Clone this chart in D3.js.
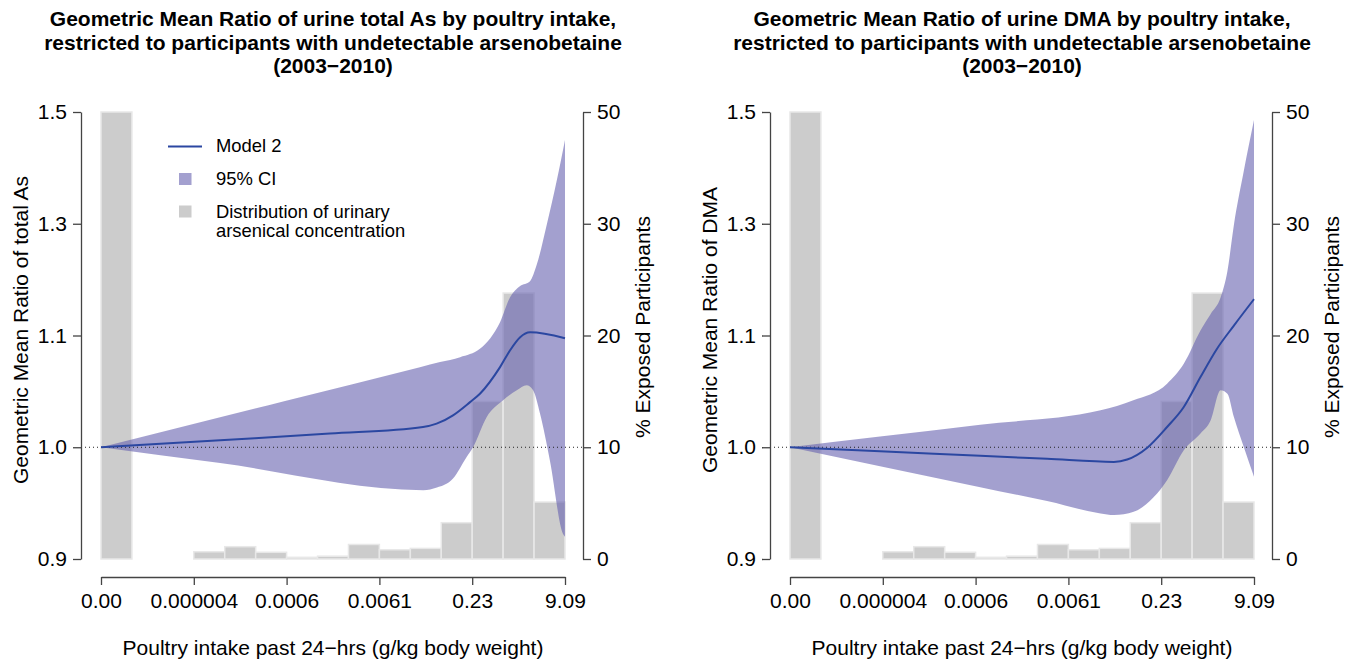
<!DOCTYPE html>
<html>
<head>
<meta charset="utf-8">
<script src="https://cdn.jsdelivr.net/npm/d3@7"></script>
<style>
  body { margin: 0; background: #fff; }
  svg text { font-family: "Liberation Sans", Arial, Helvetica, sans-serif; fill: #000; }
</style>
</head>
<body>
<svg id="chart" width="1349" height="660"></svg>
<script>
// x axis: 15 equal bins, labelled every third bin
const xTickValues = [0, 3, 6, 9, 12, 15];
const xTickLabels = ["0.00", "0.000004", "0.0006", "0.0061", "0.23", "9.09"];
const yTicks = [0.9, 1.0, 1.1, 1.3, 1.5];
const pctTicks = [0, 10, 20, 30, 50];

// % exposed participants per bin
const histPct = [50, 0, 0, 0.65, 1.1, 0.6, 0.15, 0.25, 1.3, 0.83, 0.95, 3.25, 14.1, 23.8, 5.1];

// total As, model 2 and its 95% CI  [bin position, GMR]
const tasModel = [[0, 1.0], [3.85, 1.0063], [7.4, 1.0122], [10.41, 1.0181], [10.85, 1.0211], [11.38, 1.0286],
  [11.93, 1.0404], [12.25, 1.0479], [12.9, 1.0717], [13.22, 1.0866], [13.55, 1.0985], [13.87, 1.1058], [15, 1.0976]];
const tasUpper = [[0, 1.0], [3.85, 1.0268], [5.95, 1.0414], [10.31, 1.0717], [10.96, 1.0762], [11.61, 1.0806],
  [12.25, 1.0881], [12.58, 1.0973], [12.9, 1.1236], [13.22, 1.1678], [13.55, 1.1885], [13.87, 1.1973],
  [14.09, 1.2274], [14.41, 1.2982], [14.73, 1.3764], [15, 1.45]];
const tasLower = [[0, 1.0], [3.85, 0.9858], [10.42, 0.9616], [10.86, 0.964], [11.38, 0.9721], [11.82, 0.9913],
  [12.03, 1.0003], [12.47, 1.0271], [13.0, 1.042], [13.44, 1.0509], [13.76, 1.0554], [13.97, 1.0509],
  [14.19, 1.0304], [14.51, 0.9884], [14.93, 0.9229], [15, 0.92]];

// DMA, model 2 and its 95% CI
const dmaModel = [[0, 1.0], [2.91, 0.9964], [6.15, 0.9923], [8.31, 0.9896], [10.47, 0.9869], [10.9, 0.989],
  [11.55, 0.9996], [12.19, 1.0181], [12.73, 1.036], [13.27, 1.0628], [13.81, 1.0884], [14.35, 1.1177], [15, 1.165]];
const dmaUpper = [[0, 1.0], [2.91, 1.0096], [6.15, 1.0202], [10.04, 1.033], [11.1, 1.042], [12.19, 1.0569],
  [12.73, 1.0747], [13.27, 1.1088], [13.6, 1.1384], [13.92, 1.1678], [14.14, 1.215], [14.35, 1.2977],
  [14.67, 1.3945], [15, 1.4855]];
const dmaLower = [[0, 1.0], [2.91, 0.9831], [6.15, 0.9643], [8.31, 0.9518], [10.04, 0.9408], [10.47, 0.9393],
  [11.11, 0.9422], [11.76, 0.9554], [12.19, 0.9705], [12.73, 0.9973], [13.27, 1.0122],
  [13.6, 1.0241], [13.92, 1.0509], [14.14, 1.0479], [14.35, 1.0271], [14.67, 1.0003], [15, 0.9735]];

const panels = [
  { dx: 0, model: tasModel, upper: tasUpper, lower: tasLower, legend: true,
    ylab: "Geometric Mean Ratio of total As",
    title: ["Geometric Mean Ratio of urine total As by poultry intake,",
            "restricted to participants with undetectable arsenobetaine", "(2003\u22122010)"] },
  { dx: 689, model: dmaModel, upper: dmaUpper, lower: dmaLower, legend: false,
    ylab: "Geometric Mean Ratio of DMA",
    title: ["Geometric Mean Ratio of urine DMA by poultry intake,",
            "restricted to participants with undetectable arsenobetaine", "(2003\u22122010)"] }
];

const svg = d3.select("#chart");
const FS = 21;
const bandColor = "rgb(102,97,175)";
const lineColor = "#2b47a1";

function styleAxis(sel) {
  sel.attr("font-size", null).attr("font-family", null);
  sel.select(".domain").attr("stroke", "#444").attr("stroke-width", 1.3);
  sel.selectAll(".tick line").attr("stroke", "#444").attr("stroke-width", 1.3);
  sel.selectAll(".tick text").attr("font-size", FS);
}

function drawPanel(p) {
  const g = svg.append("g").attr("transform", `translate(${p.dx},0)`);
  const top = 112, bottom = 559;
  const x = d3.scaleLinear().domain([0, histPct.length]).range([101, 565]);
  const yPos = yTicks.map((d, i) => bottom - i * (bottom - top) / (yTicks.length - 1));
  const y = d3.scaleLinear().domain(yTicks).range(yPos);
  const yPct = d3.scaleLinear().domain(pctTicks).range(yPos);

  // histogram
  g.append("g").selectAll("rect").data(histPct).join("rect")
    .attr("x", (d, i) => x(i))
    .attr("width", x(1) - x(0))
    .attr("y", d => yPct(d))
    .attr("height", d => yPct(0) - yPct(d))
    .attr("fill", "#cccccc")
    .attr("stroke", "#e8e8e8")
    .attr("stroke-width", 1.5);

  // CI band
  const line = d3.line().x(d => x(d[0])).y(d => y(d[1])).curve(d3.curveMonotoneX);
  const up = line(p.upper);
  const lo = line(p.lower.slice().reverse());
  g.append("path")
    .attr("d", up + "L" + lo.slice(1) + "Z")
    .attr("fill", bandColor)
    .attr("fill-opacity", 0.6);

  // reference line at 1
  g.append("line")
    .attr("x1", 81).attr("x2", 583)
    .attr("y1", y(1)).attr("y2", y(1))
    .attr("stroke", "#222").attr("stroke-width", 1)
    .attr("stroke-dasharray", "1,3");

  g.append("path")
    .attr("d", line(p.model))
    .attr("fill", "none")
    .attr("stroke", lineColor)
    .attr("stroke-width", 2);

  // axes
  g.append("g").attr("transform", "translate(81,0)")
    .call(d3.axisLeft(y).tickValues(yTicks).tickFormat(d3.format(".1f"))
      .tickSize(8).tickPadding(6).tickSizeOuter(0))
    .call(styleAxis);

  g.append("g").attr("transform", "translate(583,0)")
    .call(d3.axisRight(yPct).tickValues(pctTicks)
      .tickSize(8).tickPadding(6).tickSizeOuter(0))
    .call(styleAxis);

  g.append("g").attr("transform", "translate(0,577)")
    .call(d3.axisBottom(x).tickValues(xTickValues).tickFormat((d, i) => xTickLabels[i])
      .tickSize(8).tickPadding(8).tickSizeOuter(0))
    .call(styleAxis);

  // titles and labels
  g.append("text")
    .attr("x", 333).attr("font-size", FS).attr("font-weight", "bold").attr("text-anchor", "middle")
    .selectAll("tspan").data(p.title).join("tspan")
    .attr("x", 333).attr("y", (d, i) => 26 + i * 23.5)
    .text(d => d);

  g.append("text")
    .attr("transform", "translate(28,330) rotate(-90)")
    .attr("text-anchor", "middle").attr("font-size", FS)
    .text(p.ylab);

  g.append("text")
    .attr("transform", "translate(650,327) rotate(-90)")
    .attr("text-anchor", "middle").attr("font-size", FS)
    .text("% Exposed Participants");

  g.append("text")
    .attr("x", 333).attr("y", 655)
    .attr("text-anchor", "middle").attr("font-size", FS)
    .text("Poultry intake past 24\u2212hrs (g/kg body weight)");

  if (p.legend) {
    const lg = g.append("g").attr("font-size", 18.4);
    lg.append("line").attr("x1", 168).attr("x2", 202).attr("y1", 146.5).attr("y2", 146.5)
      .attr("stroke", lineColor).attr("stroke-width", 2);
    lg.append("text").attr("x", 216).attr("y", 152).text("Model 2");
    lg.append("rect").attr("x", 179).attr("y", 173).attr("width", 12.5).attr("height", 12)
      .attr("fill", bandColor).attr("fill-opacity", 0.6);
    lg.append("text").attr("x", 216).attr("y", 184.5).text("95% CI");
    lg.append("rect").attr("x", 179).attr("y", 205.5).attr("width", 12.5).attr("height", 12)
      .attr("fill", "#cccccc");
    lg.append("text").attr("x", 216).attr("y", 217.5).text("Distribution of urinary");
    lg.append("text").attr("x", 216).attr("y", 237).text("arsenical concentration");
  }
}

panels.forEach(drawPanel);
</script>
</body>
</html>
